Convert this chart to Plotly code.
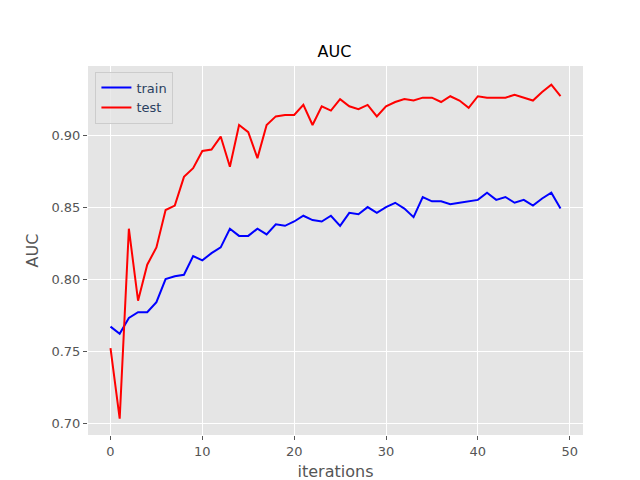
import plotly.graph_objects as go

iterations = list(range(50))
train = [0.767,0.762,0.773,0.777,0.777,0.784,0.800,0.802,0.803,0.816,0.813,0.818,0.822,0.835,0.830,0.830,0.835,0.831,0.838,0.837,0.840,0.844,0.841,0.840,0.844,0.837,0.846,0.845,0.850,0.846,0.850,0.853,0.849,0.843,0.857,0.854,0.854,0.852,0.853,0.854,0.855,0.860,0.855,0.857,0.853,0.855,0.851,0.856,0.860,0.849]
test = [0.752,0.703,0.835,0.785,0.810,0.822,0.848,0.851,0.871,0.877,0.889,0.890,0.899,0.878,0.907,0.902,0.884,0.907,0.913,0.914,0.914,0.921,0.907,0.920,0.917,0.925,0.920,0.918,0.921,0.913,0.920,0.923,0.925,0.924,0.926,0.926,0.923,0.927,0.924,0.919,0.927,0.926,0.926,0.926,0.928,0.926,0.924,0.930,0.935,0.927]

fig = go.Figure()
fig.add_trace(go.Scatter(x=iterations, y=train, mode="lines", name="train", line=dict(color="blue", width=2)))
fig.add_trace(go.Scatter(x=iterations, y=test, mode="lines", name="test", line=dict(color="red", width=2)))
axis = dict(showgrid=True, gridcolor="white", gridwidth=1, zeroline=False, ticks="outside", automargin=False,
            tickcolor="#555", ticklen=4, tickfont=dict(size=13, color="#555"), title_font=dict(size=16, color="#555"))
fig.update_layout(
    width=640, height=480, margin=dict(l=80, r=65, t=58, b=53),
    paper_bgcolor="white", plot_bgcolor="#E5E5E5",
    font=dict(family="DejaVu Sans"),
    title=dict(text="AUC", x=0.51, xanchor="center", y=0.91, yanchor="middle", automargin=False, font=dict(size=16, color="black")),
    xaxis=dict(axis, title_text="iterations", title_standoff=8, range=[-2.45, 51.45], tickvals=[0,10,20,30,40,50]),
    yaxis=dict(axis, title_text="AUC", title_standoff=8, range=[0.6917, 0.948], tickvals=[0.70,0.75,0.80,0.85,0.90], tickformat=".2f"),
    legend=dict(x=0.015, y=0.985, xanchor="left", yanchor="top", bgcolor="rgba(229,229,229,0.8)",
                bordercolor="#ccc", borderwidth=1, font=dict(size=13)),
)
fig.write_html("out.html")
